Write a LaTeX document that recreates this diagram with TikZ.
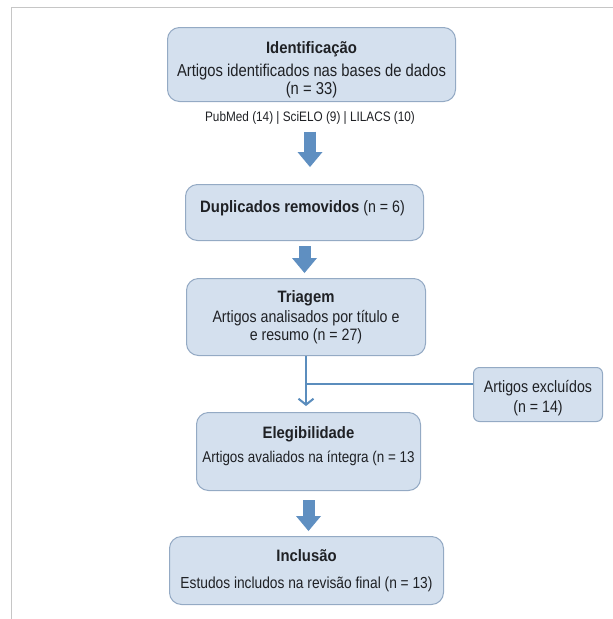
\documentclass[tikz,border=0pt]{standalone}
\usepackage{fontspec}
\setmainfont[FakeStretch=0.86,BoldFeatures={FakeStretch=0.9}]{Liberation Sans}
\usepackage{xcolor}
\usetikzlibrary{arrows.meta}
\definecolor{ink}{HTML}{1F2125}
\definecolor{frameGray}{HTML}{C6C6C6}
\definecolor{stageFill}{HTML}{D4E0EE}
\definecolor{stageEdge}{HTML}{94AAC4}
\definecolor{flowBlue}{HTML}{5F8FC1}
\definecolor{lineBlue}{HTML}{5B8DBD}
\newcommand{\stagetitle}{\fontsize{16.5}{18}\selectfont\bfseries}
\tikzset{
  stage box/.style={
    draw=stageEdge,
    fill=stageFill,
    rounded corners=12pt,
    line width=1pt,
    align=center,
    inner sep=0pt,
    text=ink,
    font=\fontsize{16.5}{18}\selectfont
  },
  side box/.style={
    stage box,
    rounded corners=6pt
  },
  source note/.style={
    font=\fontsize{13.7}{15}\selectfont,
    text=ink,
    inner sep=0pt
  },
  block arrow/.style={
    -{Triangle[length=15pt,width=25pt,line width=0pt]},
    draw=flowBlue,
    line width=12pt
  },
  flow line/.style={
    draw=lineBlue,
    line width=2pt
  },
  frame line/.style={
    draw=frameGray,
    line width=1pt
  }
}

\begin{document}
\begin{tikzpicture}[x=1pt,y=-1pt]
  \useasboundingbox (0,0) rectangle (613,619);
  \draw[frame line] (11,619) -- (11,7) -- (613,7);

  \node[stage box,font=\fontsize{17.2}{18}\selectfont,minimum width=288pt,minimum height=74pt,anchor=north west] (ident) at (167,27) {
    \rule{0pt}{22pt}{\stagetitle Identificação}\\[5pt]
    Artigos identificados nas bases de dados\\
    (n = 33)
  };
  \node[source note] (sources) at (310,118) {PubMed (14) | SciELO (9) | LILACS (10)};

  \node[stage box,minimum width=238pt,minimum height=56pt,anchor=north west] (dup) at (185,184) {
    \textbf{Duplicados removidos} (n = 6)\rule[-12pt]{0pt}{1pt}
  };

  \node[stage box,minimum width=239pt,minimum height=77pt,anchor=north west] (tri) at (186,278) {
    {\stagetitle Triagem}\\[2pt]
    Artigos analisados por título e\\
    e resumo (n = 27)
  };

  \node[side box,minimum width=129pt,minimum height=54pt,anchor=north west] (excl) at (473,367) {
    \rule{0pt}{20pt}Artigos excluídos\\[2pt]
    (n = 14)
  };

  \node[stage box,font=\fontsize{15.6}{18}\selectfont,minimum width=224pt,minimum height=78pt,anchor=north west] (elig) at (196,412) {
    {\stagetitle Elegibilidade}\\[6pt]
    Artigos avaliados na íntegra (n = 13\rule[-13pt]{0pt}{1pt}
  };

  \node[stage box,font=\fontsize{16}{18}\selectfont,minimum width=274pt,minimum height=68pt,anchor=north west] (incl) at (169,536) {
    {\stagetitle Inclusão}\\[9pt]
    Estudos includos na revisão final (n = 13)
  };

  % flow between the stages
  \draw[block arrow] ([yshift=-7pt]sources.south) -- ([yshift=17pt]sources.south |- dup.north);
  \draw[block arrow] ([yshift=-5pt]dup.south) -- ([yshift=5pt]dup.south |- tri.north);
  \draw[block arrow] ([yshift=-9pt]elig.south) -- ([yshift=5pt]elig.south |- incl.north);

  \coordinate (split) at ([yshift=-28pt]tri.south);
  \draw[flow line,-{Straight Barb[length=6pt,width=15pt]},shorten >=6pt] (tri.south) -- (tri.south |- elig.north);
  \draw[flow line] (split) -- (split -| excl.west);
\end{tikzpicture}
\end{document}
